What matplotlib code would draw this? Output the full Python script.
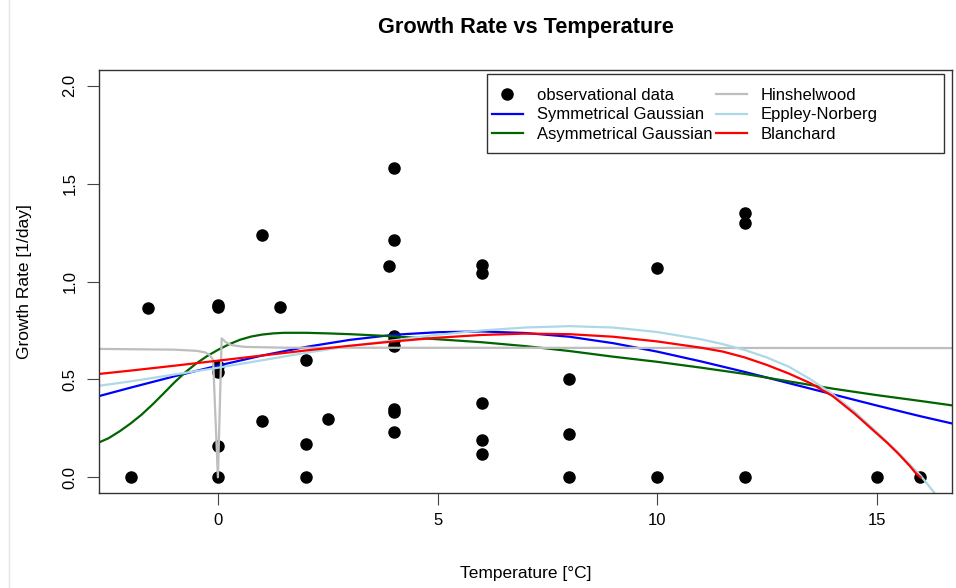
import matplotlib
matplotlib.use("Agg")
import matplotlib.pyplot as plt
from matplotlib.patches import Rectangle
from matplotlib.lines import Line2D

plt.rcParams['font.family'] = ['Liberation Sans', 'DejaVu Sans']

# observations
obs_temp = [-2, -1.6, 0, 0, 0, 0, 0, 0, 1, 1, 1.4, 2, 2, 2, 2.5, 3.9,
            4, 4, 4, 4, 4, 4, 4, 4, 6, 6, 6, 6, 6, 8, 8, 8, 10, 10,
            12, 12, 12, 15, 16]
obs_rate = [0.0, 0.865, 0.88, 0.87, 0.57, 0.54, 0.16, 0.0, 1.24, 0.29, 0.87,
            0.60, 0.17, 0.0, 0.30, 1.08,
            1.58, 1.21, 0.72, 0.70, 0.67, 0.35, 0.335, 0.23,
            1.083, 1.045, 0.38, 0.19, 0.12, 0.50, 0.22, 0.0, 1.07, 0.0,
            1.35, 1.30, 0.0, 0.0, 0.0]

# fitted curves
sym_t = [-2.8, -2, -1, 0, 1, 2, 3, 4, 5, 6, 7, 8, 9, 10, 11, 12, 13, 14, 15, 16, 16.8]
sym_r = [0.410, 0.458, 0.516, 0.571, 0.622, 0.666, 0.702, 0.728, 0.741, 0.745,
         0.737, 0.718, 0.685, 0.642, 0.592, 0.538, 0.481, 0.424, 0.367, 0.312, 0.271]

asym_t = [-2.8, -2.5, -2.25, -2, -1.75, -1.5, -1.25, -1, -0.75, -0.5, -0.25, 0,
          0.25, 0.5, 0.75, 1, 1.25, 1.5, 2, 2.5, 3, 4, 5, 6, 7, 8,
          9, 10, 11, 12, 13, 14, 15, 16, 16.8]
asym_r = [0.170, 0.200, 0.235, 0.275, 0.320, 0.372, 0.428, 0.485, 0.537, 0.582,
          0.620, 0.652, 0.680, 0.703, 0.719, 0.729, 0.735, 0.738, 0.738, 0.735,
          0.731, 0.720, 0.705, 0.690, 0.670, 0.645, 0.616, 0.590, 0.560,
          0.528, 0.490, 0.453, 0.420, 0.390, 0.365]

hin_t = [-2.8, -1, -0.5, -0.3, -0.2, -0.12, -0.01, 0.075, 0.17, 0.3, 0.6, 1.5, 16.8]
hin_r = [0.656, 0.652, 0.646, 0.638, 0.625, 0.600, 0.0, 0.710, 0.690, 0.675,
         0.666, 0.662, 0.660]

epp_t = [-2.8, -2, -1, 0, 1, 2, 3, 4, 5, 6, 7, 8, 9, 10, 11, 11.5, 12, 12.5, 13,
         13.5, 14, 14.5, 15, 15.5, 16, 16.5, 16.8]
epp_r = [0.465, 0.490, 0.525, 0.560, 0.598, 0.636, 0.670, 0.700, 0.728, 0.750,
         0.765, 0.772, 0.765, 0.742, 0.705, 0.680, 0.650, 0.612, 0.565, 0.500,
         0.425, 0.335, 0.232, 0.125, 0.010, -0.130, -0.200]

bla_t = [-2.8, -2, -1, 0, 1, 2, 3, 4, 5, 6, 7, 8, 9, 10, 11, 11.5, 12, 12.5, 13,
         13.5, 14, 14.5, 15, 15.25, 15.5, 15.75, 15.9, 16]
bla_r = [0.526, 0.545, 0.570, 0.596, 0.622, 0.648, 0.672, 0.694, 0.713, 0.727,
         0.734, 0.731, 0.718, 0.694, 0.662, 0.642, 0.612, 0.574, 0.530, 0.480,
         0.415, 0.325, 0.225, 0.175, 0.120, 0.060, 0.020, 0.0]

fig = plt.figure(figsize=(9.56, 5.88), dpi=100)
ax = fig.add_axes([99 / 956, 1 - 493 / 588, 853 / 956, 423 / 588])

ax.plot(obs_temp, obs_rate, 'o', color='black', ms=8, label='observational data')
ax.plot(sym_t, sym_r, color='blue', lw=1.6, label='Symmetrical Gaussian')
ax.plot(asym_t, asym_r, color='darkgreen', lw=1.6, label='Asymmetrical Gaussian')
ax.plot(hin_t, hin_r, color='#BEBEBE', lw=1.6, label='Hinshelwood')
ax.plot(epp_t, epp_r, color='lightblue', lw=1.6, label='Eppley-Norberg')
ax.plot(bla_t, bla_r, color='red', lw=1.6, label='Blanchard')

ax.set_xlim(-2.72, 16.72)
ax.set_ylim(-0.08, 2.08)
ax.set_xticks([0, 5, 10, 15])
ax.set_yticks([0.0, 0.5, 1.0, 1.5, 2.0])
ax.set_yticklabels(['0.0', '0.5', '1.0', '1.5', '2.0'], rotation=90, va='center')
ax.tick_params(axis='both', length=8.5, width=0.8, color='#444444', labelsize=12)
ax.tick_params(axis='x', pad=6)
ax.tick_params(axis='y', pad=7)
for s in ax.spines.values():
    s.set_linewidth(1.0)
    s.set_color('#333333')

ax.set_title('Growth Rate vs Temperature', fontsize=15.7, fontweight='bold', pad=27)
ax.set_xlabel('Temperature [°C]', fontsize=12.5)
ax.set_ylabel('Growth Rate [1/day]', fontsize=12.5)
ax.xaxis.set_label_coords(0.5, -0.172)
ax.yaxis.set_label_coords(-0.078, 0.5)

# legend box like R's
ax.add_patch(Rectangle((0.4549, 0.8038), 0.9906 - 0.4549, 0.9905 - 0.8038,
                       transform=ax.transAxes, fill=False, ec='#333333', lw=1.0, zorder=5))
ax.legend(loc='upper left', bbox_to_anchor=(0.4607, 0.9584), ncol=2, frameon=False,
          fontsize=12, borderpad=0, borderaxespad=0, handlelength=1.86,
          handletextpad=0.84, columnspacing=0.2, labelspacing=0.29, numpoints=1)

fig.add_artist(Line2D([9 / 956, 9 / 956], [0, 1], color='#e4e4e4', lw=1))

fig.savefig('out.png', dpi=100)
